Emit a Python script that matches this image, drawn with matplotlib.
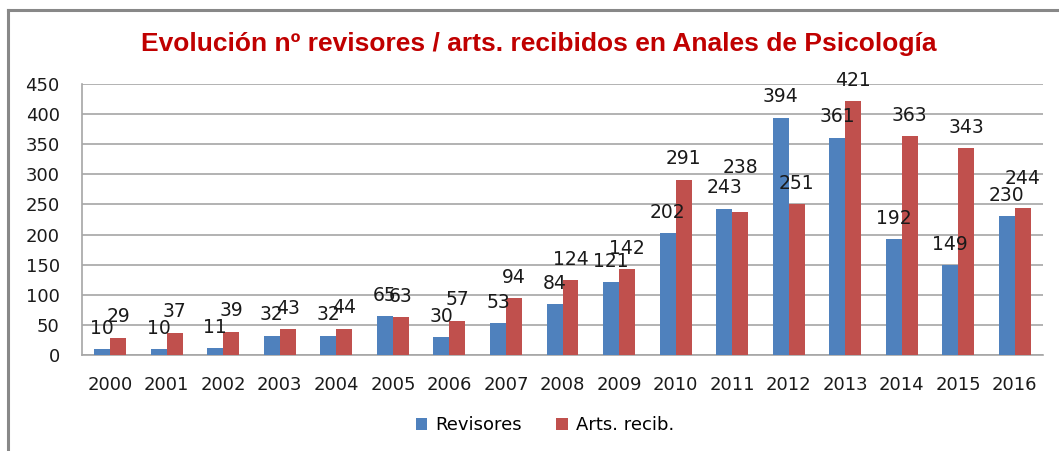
import matplotlib
matplotlib.use("Agg")
import matplotlib.pyplot as plt
from matplotlib.lines import Line2D
import numpy as np

years = ["2000", "2001", "2002", "2003", "2004", "2005", "2006", "2007", "2008",
         "2009", "2010", "2011", "2012", "2013", "2014", "2015", "2016"]
revisores = [10, 10, 11, 32, 32, 65, 30, 53, 84, 121, 202, 243, 394, 361, 192, 149, 230]
arts_recib = [29, 37, 39, 43, 44, 63, 57, 94, 124, 142, 291, 238, 251, 421, 363, 343, 244]
series_names = ["Revisores", "Arts. recib."]
title = "Evolución nº revisores / arts. recibidos en Anales de Psicología"

BLUE = "#4F81BD"
RED = "#C0504D"
GRID = "#A6A6A6"

W, H = 1059, 451
fig = plt.figure(figsize=(W / 100, H / 100), dpi=100)
ax = fig.add_axes([82 / W, 1 - 355 / H, (1043 - 82) / W, (355 - 84) / H])

x = np.arange(len(years))
bw = 0.283
b1 = ax.bar(x - bw / 2, revisores, bw, color=BLUE, label=series_names[0], zorder=3)
b2 = ax.bar(x + bw / 2, arts_recib, bw, color=RED, label=series_names[1], zorder=3)

# label placement: standard offset above bar, a few raised as in the reference
extra = {(1, 11): 16.5, (1, 16): 6.5}
for si, (bars, vals) in enumerate(((b1, revisores), (b2, arts_recib))):
    for i, (rect, v) in enumerate(zip(bars, vals)):
        ax.annotate(str(v), (rect.get_x() + rect.get_width() / 2, v),
                    xytext=(0, 15 + extra.get((si, i), 0)), textcoords="offset points",
                    ha="center", va="center", fontsize=13.5, color="#1a1a1a",
                    zorder=5, annotation_clip=False)

ax.set_xlim(-0.5, len(years) - 0.5)
ax.set_ylim(0, 450)
ax.set_yticks(np.arange(0, 451, 50))
ax.set_xticks(x)
ax.set_xticklabels(years)
ax.tick_params(axis="both", length=0, labelsize=13, labelcolor="#1a1a1a")
ax.tick_params(axis="y", pad=16)
ax.tick_params(axis="x", pad=15)
ax.yaxis.grid(True, color=GRID, lw=1.2, zorder=0)
ax.set_axisbelow(True)
for s in ("top", "right"):
    ax.spines[s].set_visible(False)
for s in ("left", "bottom"):
    ax.spines[s].set_color(GRID)
    ax.spines[s].set_linewidth(1.2)

fig.text(539 / W, 1 - 44 / H, title, ha="center", va="center",
         fontsize=19, fontweight="bold", color="#C00000",
         family="Liberation Sans")

fig.legend(handles=[b1, b2], labels=series_names, loc="center",
           bbox_to_anchor=(545 / W, 1 - 425 / H), ncol=2, frameon=False,
           fontsize=13, handlelength=0.65, handleheight=0.65, handletextpad=0.45,
           columnspacing=1.9)

# outer frame (top and left edges visible)
fig.add_artist(Line2D([8 / W, 1.0], [1 - 10 / H, 1 - 10 / H], transform=fig.transFigure,
                      color="#888888", lw=2.2))
fig.add_artist(Line2D([8 / W, 8 / W], [0, 1 - 10 / H], transform=fig.transFigure,
                      color="#888888", lw=2.2))

fig.savefig("out.png", dpi=100)
